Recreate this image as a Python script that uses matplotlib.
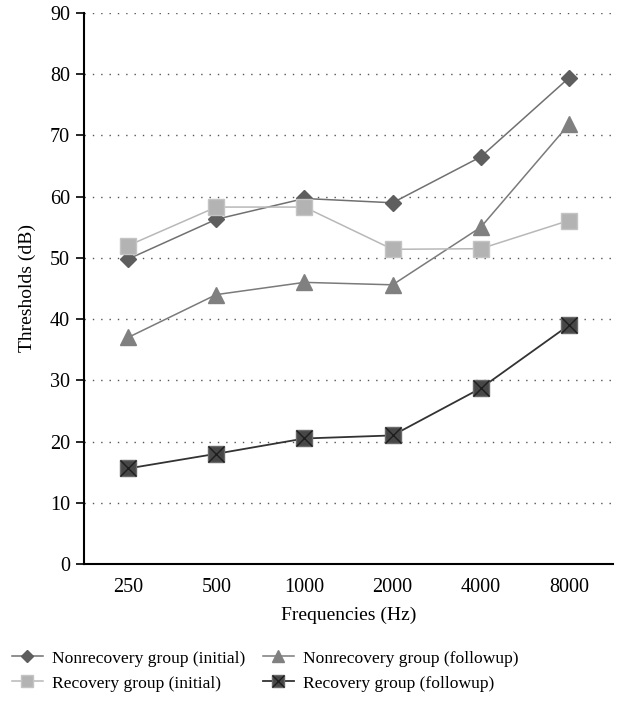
from matplotlib import pyplot as plt
from matplotlib.legend_handler import HandlerTuple

# Data
freqs = ["250", "500", "1000", "2000", "4000", "8000"]
nonrec_initial = [49.8, 56.3, 59.7, 59.0, 66.5, 79.4]
nonrec_followup = [37.0, 44.0, 46.0, 45.6, 55.0, 71.8]
rec_initial = [52.0, 58.3, 58.3, 51.4, 51.5, 56.1]
rec_followup = [15.6, 18.0, 20.5, 21.0, 28.7, 39.0]

plt.rcParams["font.family"] = ["Liberation Serif", "DejaVu Serif"]

fig = plt.figure(figsize=(6.37, 7.02), dpi=100)
ax = fig.add_axes([0.1319, 0.1966, 0.8304, 0.7849])

x = range(len(freqs))

# gridlines first so they stay behind the lines
for v in range(10, 100, 10):
    ax.axhline(v, color="#555555", linestyle=(0, (1, 5)), linewidth=1.0, zorder=0)

l1, = ax.plot(x, nonrec_initial, color="#707070", linewidth=1.1,
              marker="D", markersize=8, markerfacecolor="#5e5e5e",
              markeredgecolor="#5e5e5e")
l2, = ax.plot(x, nonrec_followup, color="#7a7a7a", linewidth=1.1,
              marker="^", markersize=11, markerfacecolor="#808080",
              markeredgecolor="#808080")
l3, = ax.plot(x, rec_initial, color="#b8b8b8", linewidth=1.1,
              marker="s", markersize=11, markerfacecolor="#b3b3b3",
              markeredgecolor="#c4c4c4")
l4, = ax.plot(x, rec_followup, color="#333333", linewidth=1.3,
              marker="s", markersize=12, markerfacecolor="#474747",
              markeredgecolor="#6a6a6a")
l4x, = ax.plot(x, rec_followup, linestyle="none", marker="x", markersize=11,
               markeredgecolor="#1e1e1e", markeredgewidth=1.0)

ax.set_xlim(-0.5, 5.5)
ax.set_ylim(0, 90)
ax.set_yticks(range(0, 100, 10))
ax.set_xticks(list(x))
ax.set_xticklabels(freqs)
ax.tick_params(axis="x", length=0, labelsize=14.5, pad=10)
ax.tick_params(axis="y", length=6, width=1.2, labelsize=14.5, pad=4)

ax.spines["top"].set_visible(False)
ax.spines["right"].set_visible(False)
ax.spines["left"].set_linewidth(1.5)
ax.spines["bottom"].set_linewidth(1.5)

ax.set_xlabel("Frequencies (Hz)", fontsize=14, labelpad=7)
ax.set_ylabel("Thresholds (dB)", fontsize=14, labelpad=10)

fig.legend([l1, l3, l2, (l4, l4x)],
           ["Nonrecovery group (initial)", "Recovery group (initial)",
            "Nonrecovery group (followup)", "Recovery group (followup)"],
           handler_map={tuple: HandlerTuple(ndivide=1)},
           ncol=2, loc="lower left", bbox_to_anchor=(-0.003, -0.005),
           frameon=False, fontsize=12.6, handlelength=1.75, handletextpad=0.55,
           columnspacing=1.0, labelspacing=0.5, markerscale=0.75,
           borderpad=0.4, borderaxespad=0.4)

fig.savefig("out.png", dpi=100)
